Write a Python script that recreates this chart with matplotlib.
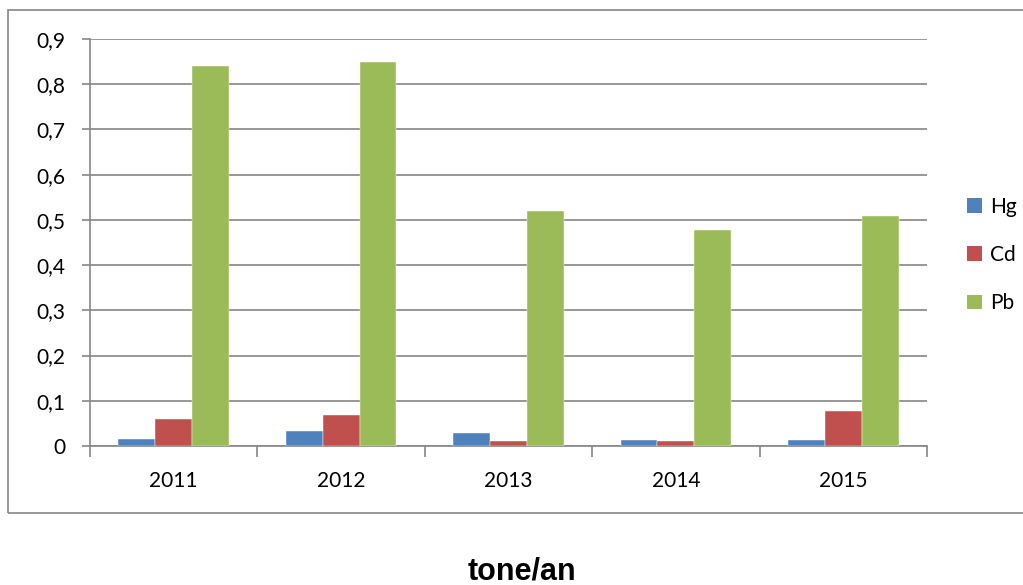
import numpy as np
import matplotlib.pyplot as plt
from matplotlib.patches import Rectangle, Patch
from matplotlib.ticker import FuncFormatter

# data
years = ['2011', '2012', '2013', '2014', '2015']
hg = [0.016, 0.033, 0.029, 0.014, 0.014]
cd = [0.060, 0.068, 0.011, 0.010, 0.077]
pb = [0.840, 0.849, 0.519, 0.477, 0.508]
series_names = ['Hg', 'Cd', 'Pb']
colors = ['#4F81BD', '#C0504D', '#9BBB59']

plt.rcParams['font.family'] = ['Lato', 'DejaVu Sans']

W, H = 1023, 585
fig = plt.figure(figsize=(W / 100, H / 100), dpi=100)

# plot area in pixels: x 90..927, y 39..446
ax = fig.add_axes([90 / W, 1 - 446 / H, (927 - 90) / W, (446 - 39) / H])

# outer chart border
fig.patches.append(Rectangle((8 / W, 1 - 513 / H), 1.2, (513 - 10) / H,
                             transform=fig.transFigure, fill=False,
                             edgecolor='#868686', linewidth=1.2))

x = np.arange(len(years))
bw = 0.22
for i, (vals, name) in enumerate(zip([hg, cd, pb], series_names)):
    ax.bar(x + (i - 1) * bw, vals, width=bw, color=colors[i], label=name,
           zorder=3, edgecolor='white', linewidth=0.3)

ax.set_xlim(-0.5, len(years) - 0.5)
ax.set_ylim(0, 0.9)
ax.set_yticks(np.arange(0, 0.91, 0.1))
ax.yaxis.set_major_formatter(FuncFormatter(
    lambda v, p: '0' if abs(v) < 1e-9 else f'{v:.1f}'.replace('.', ',')))
ax.grid(axis='y', color='#868686', linewidth=1.2, zorder=0)

ax.set_xticks(x)
ax.set_xticklabels(years)
ax.set_xticks(np.arange(-0.5, len(years)), minor=True)
ax.tick_params(axis='x', which='major', length=0, pad=18, labelsize=15)
ax.tick_params(axis='x', which='minor', length=8, width=1.2, color='#868686')
ax.tick_params(axis='y', length=6, width=1.2, color='#868686', labelsize=15, pad=12)

for s in ['top', 'right']:
    ax.spines[s].set_visible(False)
for s in ['left', 'bottom']:
    ax.spines[s].set_color('#868686')
    ax.spines[s].set_linewidth(1.2)

handles = [Patch(facecolor=c, label=n) for c, n in zip(colors, series_names)]
fig.legend(handles=handles, loc='center left', bbox_to_anchor=(957 / W, 1 - 255 / H),
           frameon=False, fontsize=15, handlelength=0.7, handleheight=0.7,
           handletextpad=0.4, labelspacing=1.35, borderpad=0)

fig.text(522 / W, 1 - 572 / H, 'tone/an', ha='center', va='center',
         fontsize=22, fontweight='bold', family=['Liberation Sans', 'DejaVu Sans'])

fig.savefig('out.png', dpi=100)
